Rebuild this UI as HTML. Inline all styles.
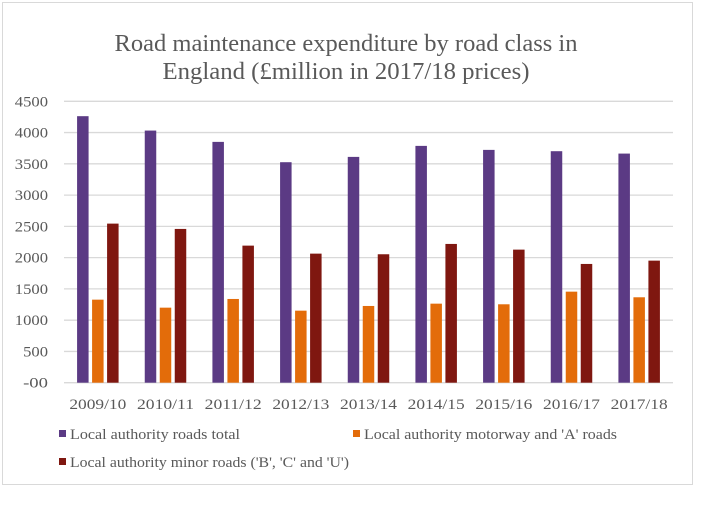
<!DOCTYPE html>
<html><head><meta charset="utf-8"><style>
body{margin:0;background:#fff;width:720px;height:507px;overflow:hidden}
svg text{font-family:"Liberation Serif",serif}
</style></head><body>
<svg width="720" height="507">
<rect x="2.5" y="2.5" width="690" height="482" fill="#fff" stroke="#d9d9d9"/>
<text x="346" y="51" text-anchor="middle" font-size="24" textLength="463" lengthAdjust="spacingAndGlyphs" fill="#595959">Road maintenance expenditure by road class in</text>
<text x="346" y="79" text-anchor="middle" font-size="24" textLength="367" lengthAdjust="spacingAndGlyphs" fill="#595959">England (£million in 2017/18 prices)</text>
<g id="grid"></g><g id="bars"></g><g id="labels"></g>
<g>
<rect x="59" y="430" width="7" height="7" fill="#5b3a84"/>
<text x="70" y="439" font-size="15" textLength="170" lengthAdjust="spacingAndGlyphs" fill="#595959">Local authority roads total</text>
<rect x="353" y="430" width="7" height="7" fill="#e36c0a"/>
<text x="364" y="439" font-size="15" textLength="253" lengthAdjust="spacingAndGlyphs" fill="#595959">Local authority motorway and 'A' roads</text>
<rect x="59" y="458" width="7" height="7" fill="#7f1710"/>
<text x="70" y="467" font-size="15" textLength="279" lengthAdjust="spacingAndGlyphs" fill="#595959">Local authority minor roads ('B', 'C' and 'U')</text>
</g>
</svg>
<script>
const categories=["2009/10","2010/11","2011/12","2012/13","2013/14","2014/15","2015/16","2016/17","2017/18"];
const totalRoads=[4262,4032,3851,3526,3611,3787,3723,3702,3664];
const motorwayA=[1328,1200,1339,1152,1227,1264,1254,1456,1366];
const minorRoads=[2544,2459,2192,2064,2054,2219,2128,1899,1952];
const yTicks=[0,500,1000,1500,2000,2500,3000,3500,4000,4500];
const yTickLabels=["-00","500","1000","1500","2000","2500","3000","3500","4000","4500"];
const NS="http://www.w3.org/2000/svg";
const x0=64,x1=673,y0=382.7,yTop=101.3,yMax=4500;
const y=v=>y0-(v/yMax)*(y0-yTop);
const step=(x1-x0)/categories.length;
const gx=i=>x0+step*i+step/2;
const g=document.getElementById('grid'),b=document.getElementById('bars'),l=document.getElementById('labels');
function mk(tag,at){const e=document.createElementNS(NS,tag);for(const k in at)e.setAttribute(k,at[k]);return e;}
yTicks.forEach((t,i)=>{
 const ln=mk('line',{x1:x0,x2:x1,y1:y(t),y2:y(t),stroke:'#d9d9d9','stroke-width':1.3});
 
 
 g.appendChild(ln);
 const lbl=yTickLabels[i];
 const tx=mk('text',{x:48,y:y(t)+5,'text-anchor':'end','font-size':15,fill:'#595959',textLength:lbl.length*8.3,lengthAdjust:'spacingAndGlyphs'});
 tx.textContent=lbl;
 
 
 l.appendChild(tx);
});
const series=[[totalRoads,'#5b3a84','bar-total'],[motorwayA,'#e36c0a','bar-motorway'],[minorRoads,'#7f1710','bar-minor']];
const bw=11.5,gap=3.5;
categories.forEach((c,i)=>{
 series.forEach((s,j)=>{
  const v=s[0][i];
  const r=mk('rect',{x:gx(i)+(j-1)*(bw+gap)-bw/2,y:y(v),width:bw,height:y0-y(v),fill:s[1]});
  
  
  b.appendChild(r);
 });
 const tx=mk('text',{x:gx(i),y:409,'text-anchor':'middle','font-size':15,fill:'#595959',textLength:57,lengthAdjust:'spacingAndGlyphs'});
 tx.textContent=c;
 
 
 l.appendChild(tx);
});
</script>
</body></html>
